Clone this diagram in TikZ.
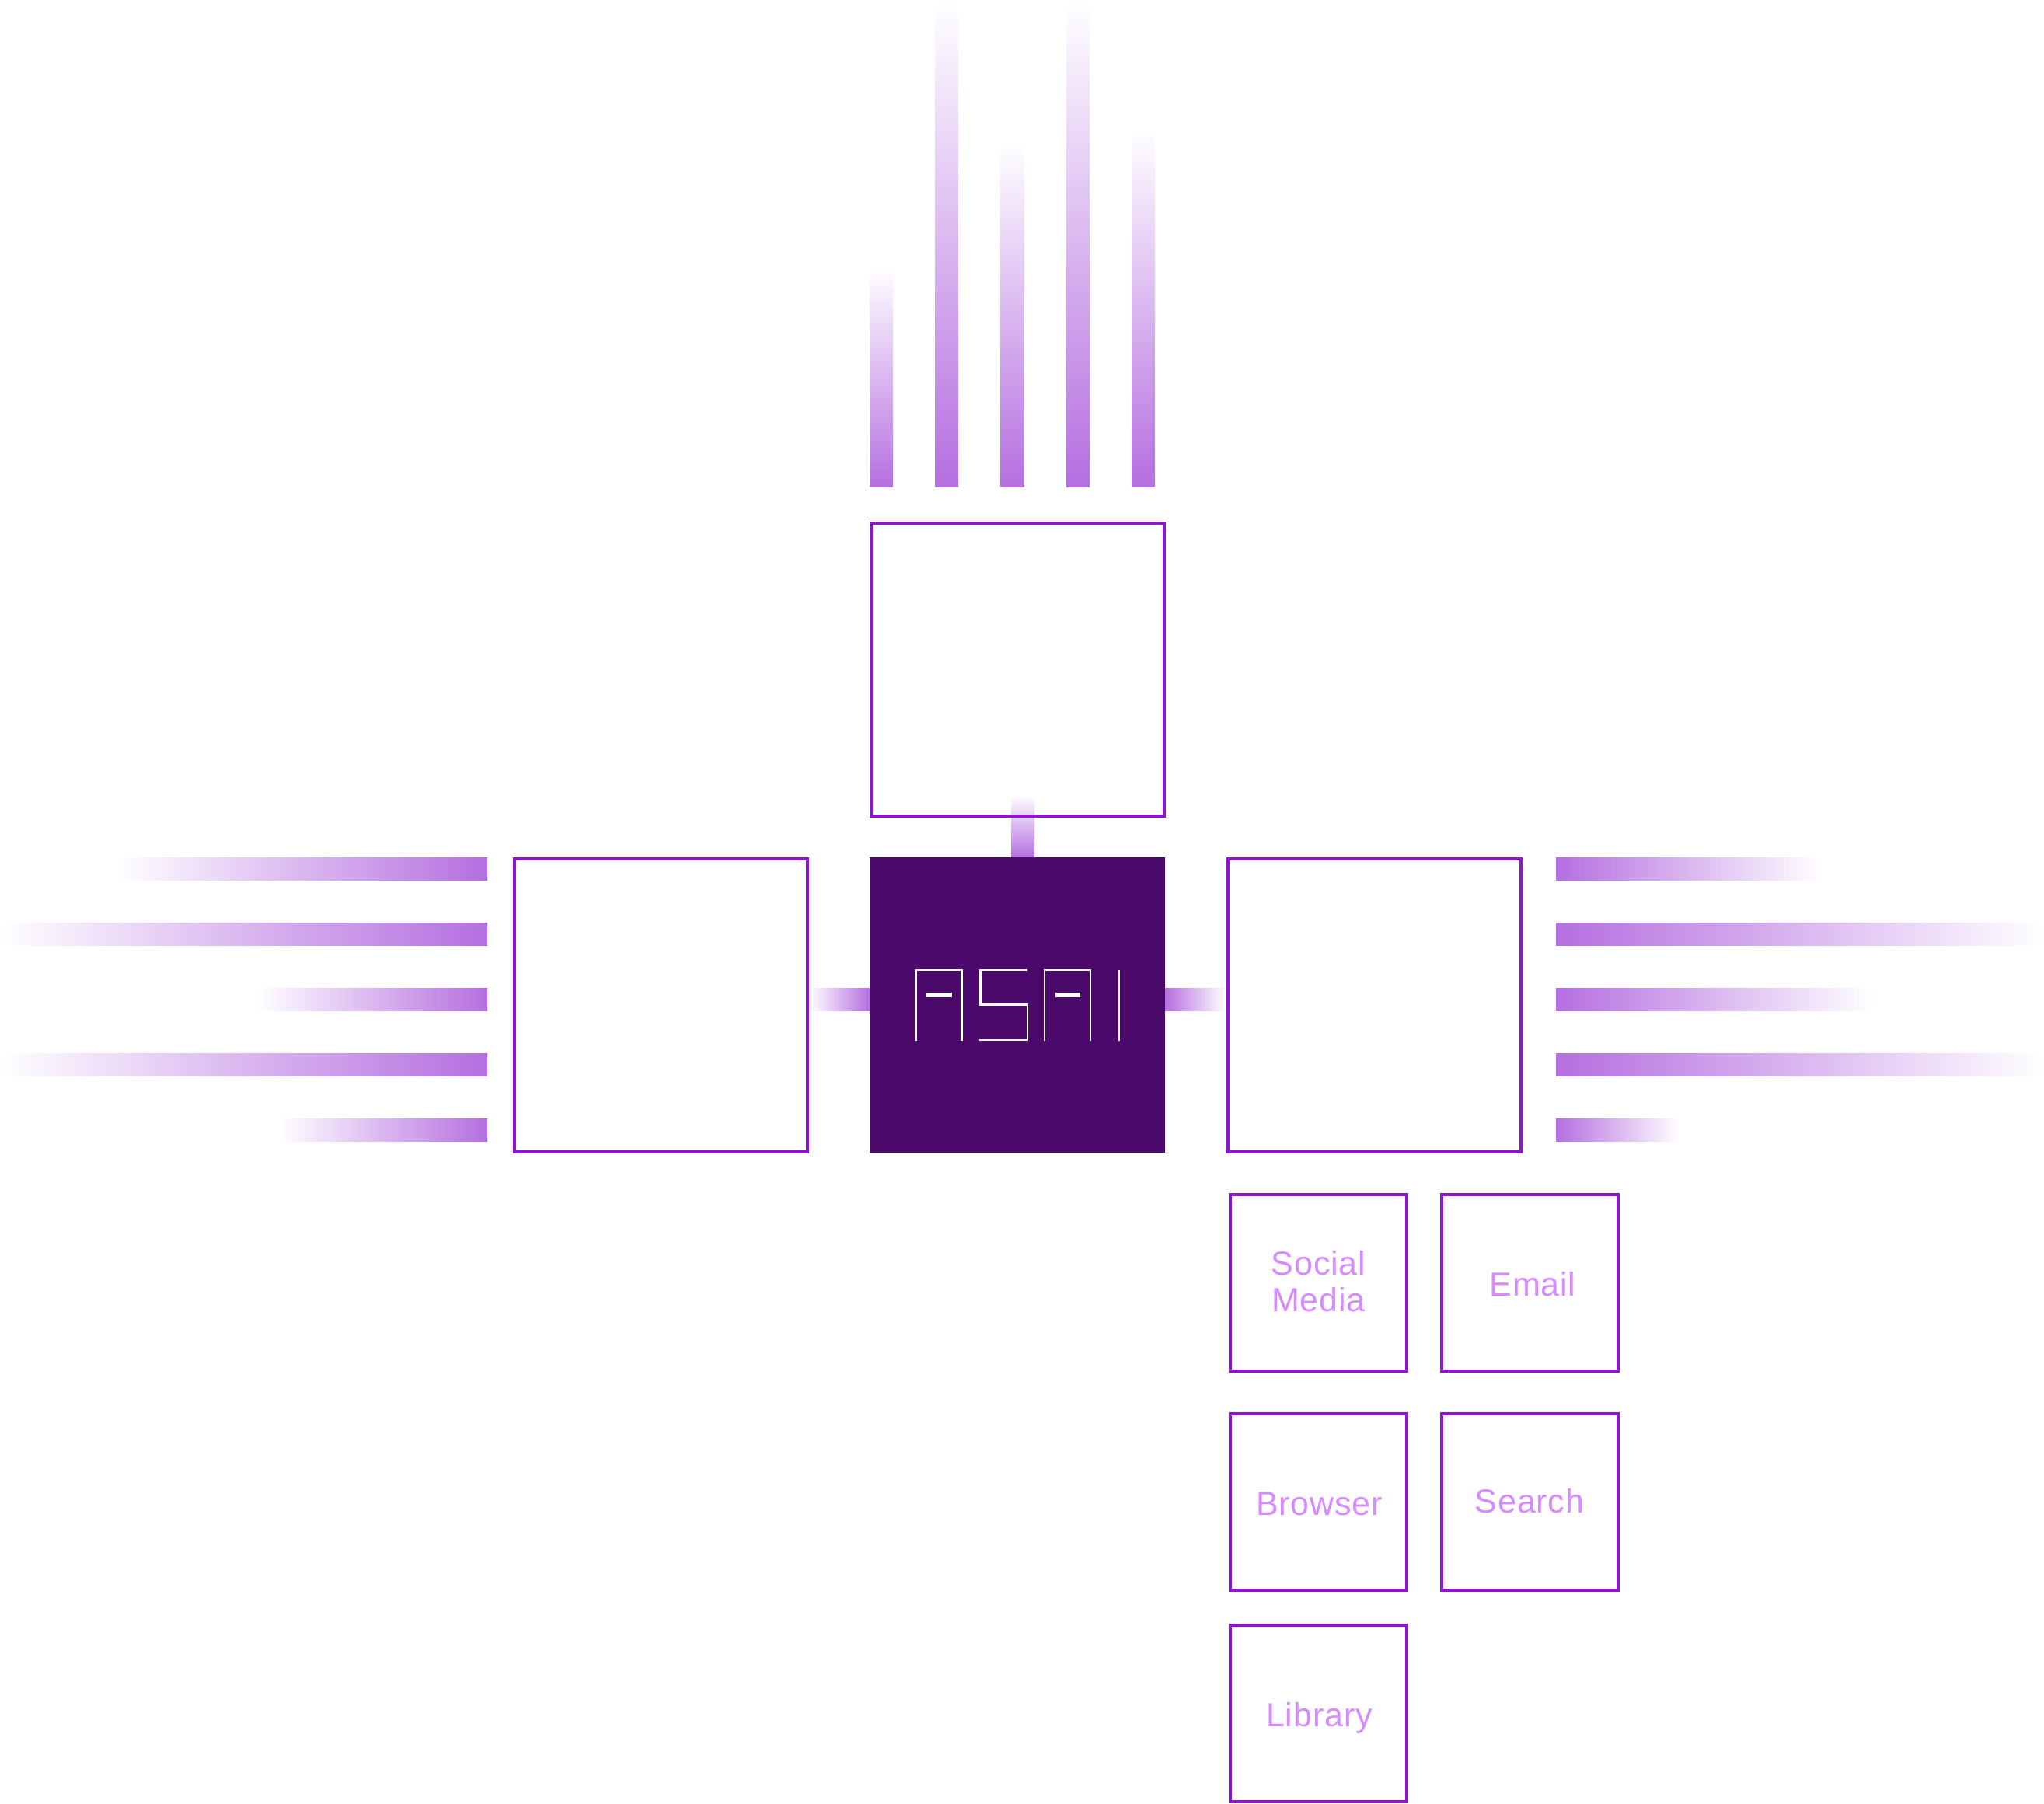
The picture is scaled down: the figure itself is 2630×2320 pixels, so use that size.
\documentclass[tikz,border=0pt]{standalone}
\usepackage{fontspec}
\setmainfont[LetterSpace=2]{Liberation Sans}
\definecolor{boxline}{HTML}{8F14D2}
\definecolor{corefill}{HTML}{4B0A6B}
\definecolor{barcol}{HTML}{B56FE0}
\definecolor{labelcol}{HTML}{D68BFF}
\tikzset{
  x=0.5pt,y=-0.5pt,
  panel/.style={draw=boxline,line width=1.75pt,fill=none,inner sep=0pt,minimum size=188.5pt,anchor=north west},
  tile/.style={draw=boxline,line width=1.75pt,fill=none,inner sep=0pt,minimum size=113.5pt,anchor=north west},
  core/.style={draw=none,fill=corefill,inner sep=0pt,outer sep=0pt,minimum size=190pt,anchor=north west},
  tag/.style={text=labelcol,font=\fontsize{21.5}{24}\selectfont,anchor=base,inner sep=0pt},
  glyph/.style={draw=white,line width=1.4pt,line cap=butt},
  bar/.style={draw=none},
}
\newcommand{\barup}[4]{\shade[bar,bottom color=barcol,top color=white] (#1,#2) rectangle (#3,#4);}
\newcommand{\barleft}[4]{\shade[bar,right color=barcol,left color=white] (#1,#2) rectangle (#3,#4);}
\newcommand{\barright}[4]{\shade[bar,left color=barcol,right color=white] (#1,#2) rectangle (#3,#4);}
\begin{document}
\begin{tikzpicture}
\useasboundingbox (0,0) rectangle (2630,2320);
% top bars
\barup{1119}{345}{1149}{626.5}
\barup{1203}{2}{1233}{626.5}
\barup{1287.5}{183}{1317.5}{626.5}
\barup{1372}{2}{1402}{626.5}
\barup{1456}{165}{1486}{626.5}
% left bars
\barleft{150}{1103}{627}{1132.5}
\barleft{0}{1187}{627}{1216.5}
\barleft{330}{1271}{627}{1300.5}
\barleft{0}{1355}{627}{1384.5}
\barleft{358}{1439}{627}{1468.5}
% right bars
\barright{2002}{1103}{2344}{1132.5}
\barright{2002}{1187}{2630}{1216.5}
\barright{2002}{1271}{2411}{1300.5}
\barright{2002}{1355}{2630}{1384.5}
\barright{2002}{1439}{2161}{1468.5}
% link bars
\barup{1301}{1023}{1331}{1103}
\barleft{1041}{1271}{1119}{1300.5}
\barright{1499}{1271}{1577}{1300.5}
% boxes
\node[core] (asai) at (1119,1103) {};
\node[panel] (toppanel) at (1119,671) {};
\node[panel] (leftpanel) at (660,1103) {};
\node[panel] (rightpanel) at (1578,1103) {};
\node[tile] (social) at (1581,1535) {};
\node[tile] (email) at (1853,1535) {};
\node[tile] (browser) at (1581,1817) {};
\node[tile] (search) at (1853,1817) {};
\node[tile] (library) at (1581,2089) {};
% labels
\node[tag] (tsocial) at (1696.5,1640) {Social};
\node[tag] (tmedia) at (1696.5,1687.5) {Media};
\node[tag] (temail) at (1972,1667) {Email};
\node[tag] (tbrowser) at (1697.5,1949) {Browser};
\node[tag] (tsearch) at (1968,1946.5) {Search};
\node[tag] (tlibrary) at (1697.5,2221) {Library};
% logo
\draw[glyph] (1178.5,1339) -- (1178.5,1248) -- (1237.5,1248) -- (1237.5,1339);
\draw[glyph] (1322,1248) -- (1261.5,1248) -- (1261.5,1292.5) -- (1322,1292.5) -- (1322,1338) -- (1260,1338);
\draw[glyph] (1344,1339) -- (1344,1248) -- (1403,1248) -- (1403,1339);
\draw[glyph] (1440,1248) -- (1440,1339);
\fill[white] (1191.5,1277) rectangle (1225,1283);
\fill[white] (1357.5,1277) rectangle (1390,1283);
\end{tikzpicture}
\end{document}
